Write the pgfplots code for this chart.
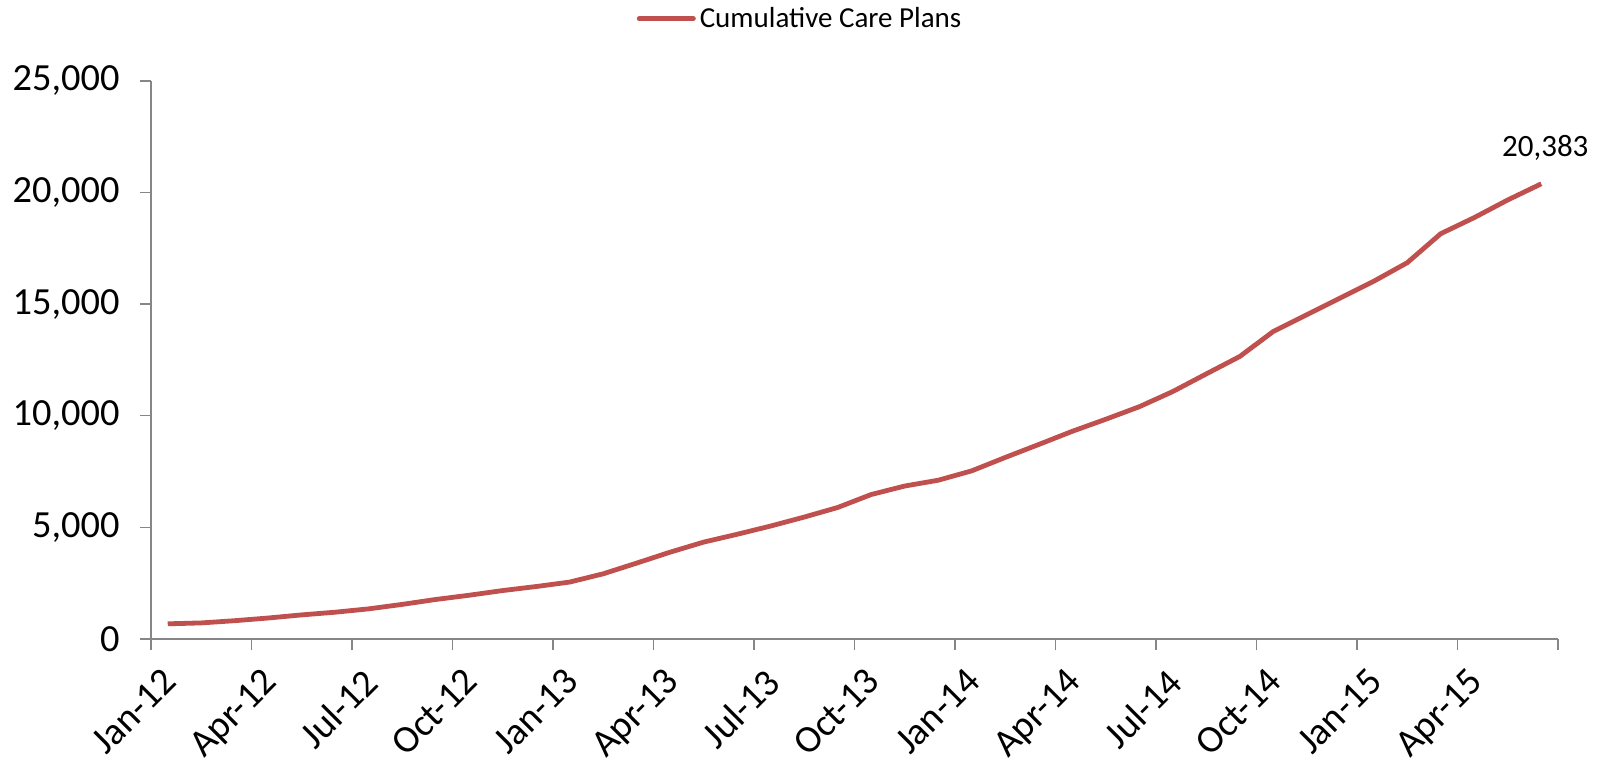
\documentclass[border=0pt]{standalone}
\usepackage{fontspec}
\setmainfont{Carlito}
\usepackage{pgfplots}
\pgfplotsset{compat=1.18}
\definecolor{linered}{RGB}{192,80,77}
\definecolor{axgray}{RGB}{134,134,134}
\begin{document}
\begin{tikzpicture}
\begin{axis}[
  name=ax,
  at={(0,0)}, anchor=south west,
  scale only axis,
  width=703.5bp, height=279.15bp,
  xmin=-0.5, xmax=41.5,
  ymin=0, ymax=25000,
  axis x line*=bottom, axis y line*=left,
  axis line style={draw=axgray, line width=0.8bp},
  tick align=outside,
  major tick length=5.5bp, minor tick length=5.5bp,
  tick style={draw=axgray, line width=0.8bp},
  xtick={0,3,...,39},
  xticklabels={Jan-12,Apr-12,Jul-12,Oct-12,Jan-13,Apr-13,Jul-13,Oct-13,Jan-14,Apr-14,Jul-14,Oct-14,Jan-15,Apr-15},
  major x tick style={draw=none},
  minor xtick={-0.5,2.5,...,41.5},
  ytick={0,5000,...,25000},
  scaled y ticks=false,
  tick label style={font=\fontsize{19.2bp}{21bp}\selectfont},
  xticklabel style={inner sep=0pt, yshift=-8bp, xshift=-3.6bp, rotate=45, anchor=north east},
  yticklabel style={anchor=east, inner sep=0pt, xshift=-10bp},
  /pgf/number format/.cd, 1000 sep={,}, assume math mode=true, /pgfplots/.cd,
  legend style={at={(0.462,1.111)}, anchor=center, draw=none, fill=none,
    font=\fontsize{14.5bp}{16bp}\selectfont, inner sep=0pt},
  legend image code/.code={\draw[line width=2.5bp, linered, line cap=round] (0bp,0bp) -- (27bp,0bp);},
  clip=false,
]
\addplot[linered, line width=2.4bp, line join=round, mark=none] coordinates {
(0,680) (1,720) (2,820) (3,940) (4,1080) (5,1200) (6,1350) (7,1550)
(8,1770) (9,1960) (10,2170) (11,2350) (12,2550) (13,2920) (14,3400)
(15,3890) (16,4340) (17,4690) (18,5060) (19,5460) (20,5890) (21,6470)
(22,6850) (23,7110) (24,7530) (25,8130) (26,8710) (27,9300) (28,9840)
(29,10400) (30,11080) (31,11870) (32,12650) (33,13770) (34,14520)
(35,15270) (36,16020) (37,16850) (38,18150) (39,18870) (40,19660) (41,20383)
};
\addlegendentry{Cumulative Care Plans}
\node[font=\fontsize{15.5bp}{17bp}\selectfont, anchor=center, xshift=2bp, yshift=18bp] at (axis cs:41,20383) {20,383};
\end{axis}
\pgfresetboundingbox
\path[use as bounding box] (ax.south west) ++(-75.5bp,-60.5bp) rectangle ++(802bp,380bp);
\end{tikzpicture}
\end{document}
